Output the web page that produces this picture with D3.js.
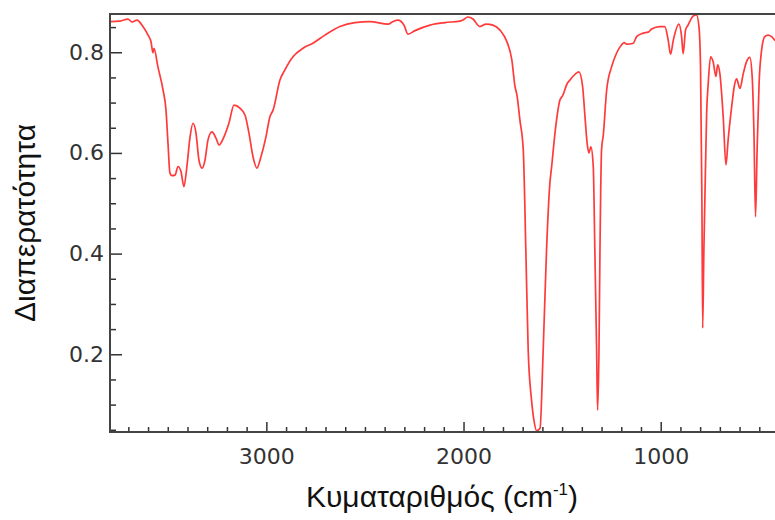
<!DOCTYPE html>
<html>
<head>
<meta charset="utf-8">
<script src="https://cdn.jsdelivr.net/npm/d3@7"></script>
<style>
  body { margin: 0; background: #fff; }
  svg { display: block; }
</style>
</head>
<body>
<svg width="775" height="520"></svg>
<script>
// IR spectrum
var wavenumber = [3793, 3742, 3702, 3681, 3656, 3626, 3600, 3585, 3575, 3570, 3550, 3524, 3509, 3499, 3489, 3479, 3463, 3448, 3433, 3418,
  3403, 3387, 3372, 3357, 3342, 3326, 3311, 3296, 3276, 3255, 3240, 3215, 3190, 3164, 3134, 3108, 3088, 3068, 3048, 3027,
  3002, 2982, 2966, 2931, 2906, 2865, 2814, 2764, 2703, 2627, 2551, 2475, 2383, 2358, 2333, 2302, 2282, 2246, 2170, 2094,
  2018, 2003, 1978, 1952, 1917, 1886, 1851, 1815, 1780, 1755, 1739, 1729, 1714, 1697, 1684, 1672, 1655, 1643, 1629, 1612,
  1596, 1579, 1562, 1553, 1536, 1511, 1497, 1474, 1460, 1426, 1415, 1396, 1384, 1373, 1364, 1354, 1342, 1334, 1325, 1320,
  1313, 1308, 1300, 1291, 1274, 1249, 1224, 1198, 1185, 1173, 1139, 1122, 1089, 1063, 1046, 1004, 979, 962, 950, 936,
  908, 894, 886, 874, 861, 835, 818, 806, 798, 791, 787, 781, 776, 767, 759, 747, 734, 720, 711, 700,
  683, 669, 658, 640, 627, 615, 598, 581, 565, 548, 536, 527, 519, 511, 501, 488, 472, 455, 438, 421, 401];
var transmittance = [0.861, 0.862, 0.866, 0.860, 0.864, 0.851, 0.834, 0.821, 0.799, 0.808, 0.771, 0.725, 0.685, 0.620, 0.560, 0.555, 0.556, 0.573, 0.563, 0.533,
  0.573, 0.632, 0.659, 0.640, 0.586, 0.570, 0.586, 0.626, 0.642, 0.629, 0.616, 0.632, 0.659, 0.695, 0.689, 0.675, 0.639, 0.593, 0.570, 0.593,
  0.632, 0.672, 0.685, 0.745, 0.765, 0.791, 0.808, 0.818, 0.834, 0.851, 0.859, 0.861, 0.856, 0.861, 0.864, 0.854, 0.836, 0.843, 0.854, 0.859,
  0.862, 0.864, 0.870, 0.866, 0.851, 0.856, 0.854, 0.844, 0.821, 0.785, 0.732, 0.715, 0.665, 0.606, 0.407, 0.208, 0.109, 0.069, 0.048, 0.053,
  0.208, 0.407, 0.540, 0.573, 0.640, 0.705, 0.714, 0.738, 0.745, 0.759, 0.761, 0.732, 0.672, 0.619, 0.600, 0.612, 0.573, 0.407, 0.208, 0.089,
  0.208, 0.407, 0.606, 0.636, 0.725, 0.771, 0.798, 0.815, 0.819, 0.816, 0.818, 0.831, 0.838, 0.840, 0.846, 0.851, 0.851, 0.824, 0.796, 0.824,
  0.856, 0.831, 0.797, 0.844, 0.854, 0.872, 0.874, 0.851, 0.771, 0.506, 0.252, 0.407, 0.506, 0.679, 0.738, 0.791, 0.781, 0.752, 0.775, 0.758,
  0.672, 0.576, 0.626, 0.692, 0.732, 0.747, 0.728, 0.758, 0.781, 0.790, 0.751, 0.639, 0.473, 0.606, 0.738, 0.805, 0.831, 0.834, 0.831, 0.824, 0.817];

var xMajor = [3000, 2000, 1000];
var yMajor = [0.2, 0.4, 0.6, 0.8];

var svg = d3.select("svg");
var plotLeft = 110, plotRight = 779, plotTop = 14, plotBottom = 432;

var x = d3.scaleLinear().domain([3793, 400]).range([plotLeft, plotRight]);
var y = d3.scaleLinear().domain([0.0456, 0.876]).range([plotBottom, plotTop]);

var data = wavenumber.map(function(w, i) { return {w: w, t: transmittance[i]}; });

svg.append("defs").append("clipPath").attr("id", "plot")
  .append("rect").attr("x", plotLeft).attr("y", plotTop)
  .attr("width", plotRight - plotLeft).attr("height", plotBottom - plotTop);

var line = d3.line()
    .x(function(d) { return x(d.w); })
    .y(function(d) { return y(d.t); })
    .curve(d3.curveMonotoneX);

svg.append("path")
    .datum(data)
    .attr("clip-path", "url(#plot)")
    .attr("fill", "none")
    .attr("stroke", "#ff3a3a")
    .attr("stroke-width", 1.7)
    .attr("d", line);

// minor ticks
var xMinor = d3.range(500, 3800, 100).filter(function(v) { return v % 1000 !== 0; });
var yMinor = d3.range(0.05, 0.876, 0.05).filter(function(v) { return Math.abs(v * 5 - Math.round(v * 5)) > 1e-6; });

svg.append("g")
    .attr("transform", "translate(0," + plotBottom + ")")
    .call(d3.axisBottom(x).tickValues(xMinor).tickSize(-5).tickFormat(""))
    .call(function(g) { g.select(".domain").remove(); g.selectAll("line").attr("stroke", "#333").attr("stroke-width", 1.5); });

svg.append("g")
    .attr("transform", "translate(" + plotLeft + ",0)")
    .call(d3.axisLeft(y).tickValues(yMinor).tickSize(-6).tickFormat(""))
    .call(function(g) { g.select(".domain").remove(); g.selectAll("line").attr("stroke", "#333").attr("stroke-width", 1.5); });

// major ticks with labels
var xAxis = svg.append("g")
    .attr("transform", "translate(0," + plotBottom + ")")
    .call(d3.axisBottom(x).tickValues(xMajor).tickSize(-10).tickPadding(16).tickFormat(d3.format("d")));
var yAxis = svg.append("g")
    .attr("transform", "translate(" + plotLeft + ",0)")
    .call(d3.axisLeft(y).tickValues(yMajor).tickSize(-12).tickPadding(6).tickFormat(d3.format(".1f")));

[xAxis, yAxis].forEach(function(g) {
  g.select(".domain").remove();
  g.selectAll("line").attr("stroke", "#333").attr("stroke-width", 1.5);
  g.selectAll("text").attr("fill", "#333").style("font-family", "DejaVu Sans").style("font-size", "22px");
});

// frame (right side falls outside the window)
svg.append("rect")
    .attr("x", plotLeft).attr("y", plotTop)
    .attr("width", plotRight - plotLeft).attr("height", plotBottom - plotTop)
    .attr("fill", "none")
    .attr("stroke", "#444")
    .attr("stroke-width", 2);

// axis titles
var xt = svg.append("text")
    .attr("x", 442).attr("y", 507)
    .attr("text-anchor", "middle")
    .style("font-family", "Liberation Sans")
    .style("font-size", "30px")
    .attr("fill", "#111");
xt.append("tspan").text("Κυματαριθμός (cm");
xt.append("tspan").attr("dy", -12).style("font-size", "17px").text("-1");
xt.append("tspan").attr("dy", 12).text(")");

svg.append("text")
    .attr("transform", "translate(35," + (plotTop + plotBottom) / 2 + ") rotate(-90)")
    .attr("text-anchor", "middle")
    .style("font-family", "Liberation Sans")
    .style("font-size", "30px")
    .attr("fill", "#111")
    .text("Διαπερατότητα");
</script>
</body>
</html>
